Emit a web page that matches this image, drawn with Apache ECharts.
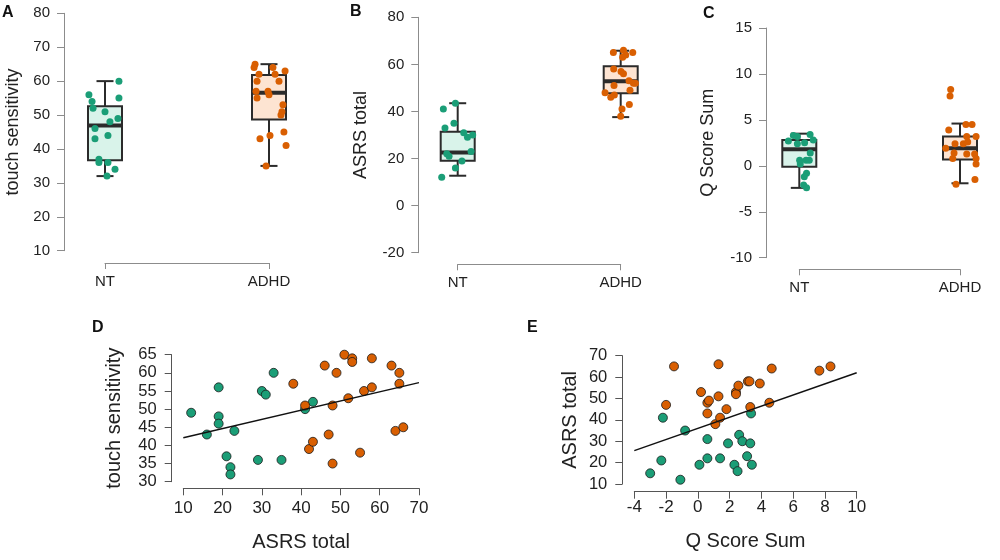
<!DOCTYPE html>
<html>
<head>
<meta charset="utf-8">
<script src="https://cdn.jsdelivr.net/npm/echarts@6/dist/echarts.min.js"></script>
<style>
  html, body { margin: 0; padding: 0; background: #fff; }
  #chart { width: 1000px; height: 560px; }
</style>
</head>
<body>
<div id="chart"></div>
<script>
// ---------- DATA ----------
const groups = ['NT', 'ADHD'];

// Box statistics [min, q1, median, q3, max] per group
const touchBox = [[32, 36.7, 46.9, 52.6, 60], [35, 48.7, 56.6, 61.8, 65]];
const asrsBox  = [[12.7, 19.1, 22.6, 31.4, 43.5], [37.6, 47.7, 52.8, 59.2, 65.8]];
const qBox     = [[-2.4, -0.1, 1.8, 2.8, 3.5], [-1.9, 0.7, 1.9, 3.2, 4.6]];

// Panel A points (touch sensitivity) with horizontal jitter (in group units)
const touchNT       = [60, 56, 54, 55, 52, 51, 49, 48, 46, 44, 43, 37, 36, 36, 34, 32];
const touchNTJit    = [0.085, -0.098, -0.079, 0.085, -0.073, 0, 0.079, 0.03, -0.061, 0.018, -0.061, -0.037, -0.037, 0.018, 0.061, 0.012];
const touchADHD     = [65, 64, 64, 63, 62, 62, 60, 60, 57, 57, 56, 55, 53, 51, 50, 45, 44, 43, 41, 35];
const touchADHDJit  = [-0.085, -0.091, 0.024, 0.098, -0.061, 0.037, -0.073, 0.061, -0.079, -0.006, 0, -0.073, 0.085, 0.079, 0.073, 0.091, 0.006, -0.055, 0.104, -0.018];

// Panel B points (ASRS total)
const asrsNT        = [41, 43.5, 35, 33, 31, 30, 29, 23, 22, 21, 19, 16, 12];
const asrsNTJit     = [-0.088, -0.014, -0.023, -0.078, 0.037, 0.092, 0.06, 0.082, -0.067, -0.053, 0.026, -0.014, -0.098];
const asrsADHD      = [66, 65, 65, 64, 63, 58, 57, 56, 53, 52, 52, 51, 49, 48, 47, 46, 43, 41, 38];
const asrsADHDJit   = [0.017, -0.045, 0.074, 0.031, 0.012, -0.043, 0.002, 0.017, 0.051, 0.078, 0.09, -0.041, 0.057, -0.096, -0.039, -0.061, 0.053, 0.008, 0];

// Panel C points (Q Score Sum)
const qNT           = [3.3, 3.4, 3.2, 2.7, 2.8, 2.5, 2.4, 1.4, 0.6, 0.6, 0.6, 0.2, -0.8, -1.2, -2.1, -2.4];
const qNTJit        = [-0.037, 0.067, -0.012, -0.068, 0.087, 0.033, -0.012, 0.068, 0.002, 0.042, 0.062, 0.006, 0.045, 0.031, 0.027, 0.045];
const qADHD         = [8.3, 7.6, 4.5, 4.5, 3.9, 3.2, 3.2, 2.4, 2.4, 2.6, 1.4, 1.3, 1.3, 0.8, 0.8, 1.9, 0.2, -1.5, -2.0];
const qADHDJit      = [-0.058, -0.062, 0.037, 0.075, -0.07, 0.042, 0.1, -0.031, 0.021, 0.048, -0.037, 0.042, 0.091, -0.045, 0.1, -0.089, 0.1, 0.093, -0.025];

// Panel D: ASRS total (x) vs touch sensitivity (y)
const dAsrsNT   = [12, 16, 19, 19, 19, 21, 22, 22, 23, 29, 30, 31, 33, 35, 41, 43];
const dTouchNT  = [49, 43, 56, 48, 46, 37, 34, 32, 44, 36, 55, 54, 60, 36, 50, 52];
const dAsrsADHD = [38, 41, 42, 43, 46, 47, 48, 48, 49, 51, 52, 53, 53, 55, 56, 58, 58, 63, 64, 65, 65, 66];
const dTouchADHD= [57, 51, 39, 41, 62, 43, 51, 35, 60, 65, 53, 64, 63, 38, 55, 64, 56, 62, 44, 60, 57, 45];
const dFitX = [10, 70];
const dFitY = [42.1, 57.3];

// Panel E: Q Score Sum (x) vs ASRS total (y)
const eQNT      = [-3.0, -2.3, -2.2, -1.1, -0.8, 0.1, 0.6, 0.6, 1.4, 1.9, 2.3, 2.5, 2.6, 2.8, 3.1, 3.3, 3.35, 3.4];
const eAsrsNT   = [15, 21, 41, 12, 35, 19, 31, 22, 22, 29, 19, 16, 33, 30, 23, 29, 43, 19];
const eQADHD    = [-1.5, -2.0, 0.2, 0.6, 0.7, 0.6, 1.1, 1.3, 1.3, 1.4, 1.8, 2.4, 2.4, 2.55, 3.15, 3.25, 3.3, 3.9, 4.5, 4.65, 7.65, 8.35];
const eAsrsADHD = [65, 47, 53, 48, 49, 43, 38, 51, 66, 41, 45, 53, 52, 56, 58, 58, 46, 57, 48, 64, 63, 65];
const eFitX = [-4, 10];
const eFitY = [25.6, 62];

// ---------- STYLE ----------
const GREEN = '#1b9e77', ORANGE = '#d95f02';
const FILLS = ['#d9f3ea', '#fde4d2'];
const FONT = 'Liberation Sans, Arial, Helvetica, sans-serif';
const TXT = '#222';
const GRAY_AX = '#8c8c8c';
const DARK_AX = '#555';

function zip(xs, ys) { return xs.map((x, i) => [x, ys[i]]); }
function jitterPts(group, vals, jit) { return vals.map((v, i) => [group + jit[i], v]); }
function boxData(stats) { return stats.map((s, i) => [i].concat(s)); }

function boxRender(params, api) {
  const x = api.value(0);
  const pMin = api.coord([x, api.value(1)]);
  const pQ1 = api.coord([x, api.value(2)]);
  const pMed = api.coord([x, api.value(3)]);
  const pQ3 = api.coord([x, api.value(4)]);
  const pMax = api.coord([x, api.value(5)]);
  const bw = 34, cap = 17, cx = pMed[0];
  const ls = { stroke: '#2b2b2b', lineWidth: 2 };
  return {
    type: 'group',
    children: [
      { type: 'line', shape: { x1: cx, y1: pQ3[1], x2: cx, y2: pMax[1] }, style: ls },
      { type: 'line', shape: { x1: cx, y1: pQ1[1], x2: cx, y2: pMin[1] }, style: ls },
      { type: 'line', shape: { x1: cx - cap / 2, y1: pMax[1], x2: cx + cap / 2, y2: pMax[1] }, style: ls },
      { type: 'line', shape: { x1: cx - cap / 2, y1: pMin[1], x2: cx + cap / 2, y2: pMin[1] }, style: ls },
      { type: 'rect', shape: { x: cx - bw / 2, y: pQ3[1], width: bw, height: pQ1[1] - pQ3[1] },
        style: { fill: FILLS[params.dataIndex], stroke: '#2b2b2b', lineWidth: 2 } },
      { type: 'line', shape: { x1: cx - bw / 2, y1: pMed[1], x2: cx + bw / 2, y2: pMed[1] },
        style: { stroke: '#2b2b2b', lineWidth: 4 } }
    ]
  };
}

const grids = [
  { left: 105, top: 13.3, width: 164, height: 237.4 },
  { left: 457.7, top: 17.3, width: 163, height: 235.4 },
  { left: 799.3, top: 28, width: 160.7, height: 229.7 },
  { left: 183.3, top: 354.7, width: 235.7, height: 127 },
  { left: 634.3, top: 355.7, width: 222.4, height: 128.3 }
].map(g => Object.assign({ containLabel: false, outerBoundsMode: 'none' }, g));

function groupXAxis(gi, off) {
  return {
    gridIndex: gi, type: 'value', min: 0, max: 1, interval: 1, offset: off,
    splitLine: { show: false },
    axisLine: { show: true, onZero: false, lineStyle: { color: GRAY_AX, width: 1 } },
    axisTick: { show: true, length: 6, lineStyle: { color: GRAY_AX } },
    axisLabel: { fontSize: 15, color: TXT, fontFamily: FONT, margin: 11, formatter: v => groups[v] }
  };
}
function boxYAxis(gi, min, max, interval, off, name, gap) {
  return {
    gridIndex: gi, type: 'value', min, max, interval, offset: off,
    name, nameLocation: 'middle', nameGap: gap, nameRotate: 90, nameMoveOverlap: false,
    nameTextStyle: { fontSize: 18, color: TXT, fontFamily: FONT },
    splitLine: { show: false },
    axisLine: { show: true, onZero: false, lineStyle: { color: GRAY_AX, width: 1 } },
    axisTick: { show: true, length: 7, lineStyle: { color: GRAY_AX } },
    axisLabel: { fontSize: 15, color: TXT, fontFamily: FONT, margin: 14 }
  };
}
function scatXAxis(gi, min, max, interval, off, name, gap, margin) {
  return {
    gridIndex: gi, type: 'value', min, max, interval, offset: off,
    name, nameLocation: 'middle', nameGap: gap, nameMoveOverlap: false,
    nameTextStyle: { fontSize: 20, color: TXT, fontFamily: FONT },
    splitLine: { show: false },
    axisLine: { show: true, onZero: false, lineStyle: { color: DARK_AX, width: 1 } },
    axisTick: { show: true, length: 7, lineStyle: { color: DARK_AX } },
    axisLabel: { fontSize: 17, color: TXT, fontFamily: FONT, margin }
  };
}
function scatYAxis(gi, min, max, interval, off, name, gap) {
  return {
    gridIndex: gi, type: 'value', min, max, interval, offset: off,
    name, nameLocation: 'middle', nameGap: gap, nameRotate: 90, nameMoveOverlap: false,
    nameTextStyle: { fontSize: 20, color: TXT, fontFamily: FONT },
    splitLine: { show: false },
    axisLine: { show: true, onZero: false, lineStyle: { color: DARK_AX, width: 1 } },
    axisTick: { show: true, length: 7, lineStyle: { color: DARK_AX } },
    axisLabel: { fontSize: 16.5, color: TXT, fontFamily: FONT, margin: 15 }
  };
}

function boxSeries(idx, stats) {
  return { type: 'custom', xAxisIndex: idx, yAxisIndex: idx, data: boxData(stats),
           encode: { x: 0, y: [1, 2, 3, 4, 5] }, renderItem: boxRender, z: 2, silent: true };
}
function jitSeries(idx, data, color) {
  return { type: 'scatter', xAxisIndex: idx, yAxisIndex: idx, data, symbolSize: 7,
           clip: false, z: 3, silent: true, itemStyle: { color, opacity: 1 } };
}
function ptSeries(idx, data, color) {
  return { type: 'scatter', xAxisIndex: idx, yAxisIndex: idx, data, symbolSize: 9,
           clip: false, z: 3, silent: true,
           itemStyle: { color, opacity: 1, borderColor: '#1a1a1a', borderWidth: 0.8 } };
}
function fitSeries(idx, data) {
  return { type: 'line', xAxisIndex: idx, yAxisIndex: idx, data, symbol: 'none', z: 4,
           silent: true, lineStyle: { color: '#111', width: 1.5 } };
}

const panelLetter = (txt, x, y) => ({ type: 'text', left: x, top: y,
  style: { text: txt, font: 'bold 16px ' + FONT, fill: '#111' } });

const option = {
  animation: false,
  backgroundColor: '#fff',
  grid: grids,
  xAxis: [
    groupXAxis(0, 12.3),
    groupXAxis(1, 11.6),
    groupXAxis(2, 11.6),
    scatXAxis(3, 10, 70, 10, 6.6, 'ASRS total', 44, 12),
    scatXAxis(4, -4, 10, 2, 7.7, 'Q Score Sum', 40, 7)
  ],
  yAxis: [
    boxYAxis(0, 10, 80, 10, 41, 'touch sensitivity', 42),
    boxYAxis(1, -20, 80, 20, 39.4, 'ASRS total', 48),
    boxYAxis(2, -10, 15, 5, 33.3, 'Q Score Sum', 49),
    scatYAxis(3, 30, 65, 5, 11.6, 'touch sensitivity', 47),
    scatYAxis(4, 10, 70, 10, 12, 'ASRS total', 42)
  ],
  graphic: [
    panelLetter('A', 2, 5),
    panelLetter('B', 350, 4),
    panelLetter('C', 703, 6),
    panelLetter('D', 92, 320),
    panelLetter('E', 527, 320)
  ],
  series: [
    boxSeries(0, touchBox),
    jitSeries(0, jitterPts(0, touchNT, touchNTJit), GREEN),
    jitSeries(0, jitterPts(1, touchADHD, touchADHDJit), ORANGE),
    boxSeries(1, asrsBox),
    jitSeries(1, jitterPts(0, asrsNT, asrsNTJit), GREEN),
    jitSeries(1, jitterPts(1, asrsADHD, asrsADHDJit), ORANGE),
    boxSeries(2, qBox),
    jitSeries(2, jitterPts(0, qNT, qNTJit), GREEN),
    jitSeries(2, jitterPts(1, qADHD, qADHDJit), ORANGE),
    ptSeries(3, zip(dAsrsNT, dTouchNT), GREEN),
    ptSeries(3, zip(dAsrsADHD, dTouchADHD), ORANGE),
    fitSeries(3, zip(dFitX, dFitY)),
    ptSeries(4, zip(eQNT, eAsrsNT), GREEN),
    ptSeries(4, zip(eQADHD, eAsrsADHD), ORANGE),
    fitSeries(4, zip(eFitX, eFitY))
  ]
};

const chart = echarts.init(document.getElementById('chart'), null, { renderer: 'canvas' });
chart.setOption(option);
</script>
</body>
</html>
